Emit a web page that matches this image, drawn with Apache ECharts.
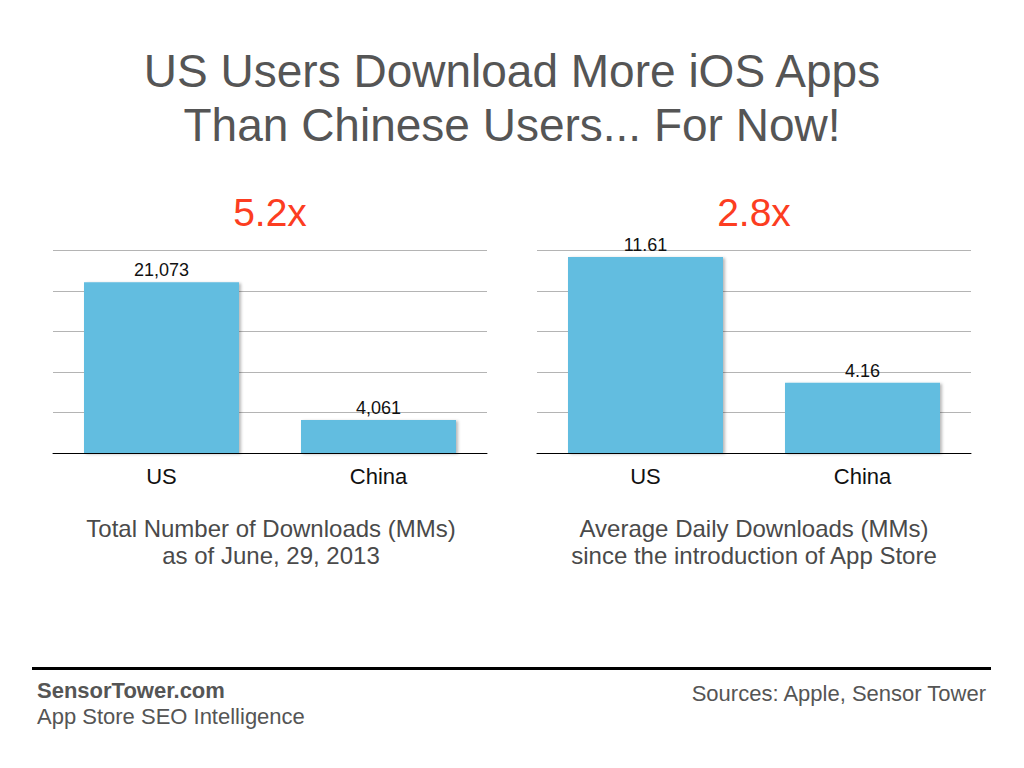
<!DOCTYPE html>
<html>
<head>
<meta charset="utf-8">
<script src="https://cdn.jsdelivr.net/npm/echarts@6/dist/echarts.min.js"></script>
<style>
html,body{margin:0;padding:0;background:#fff;}
#main{width:1024px;height:768px;}
</style>
</head>
<body>
<div id="main"></div>
<script>
var categories = ['US', 'China'];
var totalDownloads = [21073, 4061];
var dailyDownloads = [11.61, 4.16];
var titleLines = ['US Users Download More iOS Apps', 'Than Chinese Users... For Now!'];
var ratioLabels = ['5.2x', '2.8x'];
var leftCaption = ['Total Number of Downloads (MMs)', 'as of June, 29, 2013'];
var rightCaption = ['Average Daily Downloads (MMs)', 'since the introduction of App Store'];
var footerLeft = ['SensorTower.com', 'App Store SEO Intelligence'];
var footerRight = 'Sources: Apple, Sensor Tower';

var FONT = '"Liberation Sans", Arial, Helvetica, sans-serif';
var GRAY = '#555555';
var BAR = '#62bde0';

function txt(x, y, s, size, color, align, weight) {
  return {
    type: 'text', x: x, y: y, silent: true,
    style: {
      text: s, fill: color, font: (weight || 'normal') + ' ' + size + 'px ' + FONT,
      textAlign: align || 'center', textVerticalAlign: 'middle'
    }
  };
}

function xAxisCfg(gi) {
  return {
    type: 'category', gridIndex: gi, data: categories,
    axisLine: { show: true, lineStyle: { color: '#000', width: 1 } },
    axisTick: { show: false },
    axisLabel: { color: '#111', fontSize: 22, fontFamily: FONT, margin: 12 }
  };
}
function yAxisCfg(gi, max, interval) {
  return {
    type: 'value', gridIndex: gi, min: 0, max: max, interval: interval,
    axisLine: { show: false }, axisTick: { show: false }, axisLabel: { show: false },
    splitLine: { show: true, lineStyle: { color: '#b4b4b4', width: 1 } }
  };
}
function barSeries(gi, data, fmt) {
  return {
    type: 'bar', xAxisIndex: gi, yAxisIndex: gi, data: data, barWidth: 155,
    itemStyle: { color: BAR, shadowColor: 'rgba(0,0,0,0.28)', shadowBlur: 3, shadowOffsetX: 2, shadowOffsetY: 1 },
    label: { show: true, position: 'top', distance: 3, color: '#111', fontSize: 18, fontFamily: FONT, formatter: fmt },
    animation: false
  };
}

var chart = echarts.init(document.getElementById('main'), null, { renderer: 'svg' });
chart.setOption({
  backgroundColor: '#fff',
  animation: false,
  grid: [
    { left: 53, top: 250.5, width: 434, height: 202.5 },
    { left: 537, top: 250.5, width: 434, height: 202.5 }
  ],
  xAxis: [xAxisCfg(0), xAxisCfg(1)],
  yAxis: [yAxisCfg(0, 25000, 5000), yAxisCfg(1, 12, 2.4)],
  series: [
    barSeries(0, totalDownloads, function (p) { return Number(p.value).toLocaleString('en-US'); }),
    barSeries(1, dailyDownloads, function (p) { return String(p.value); })
  ],
  graphic: [
    txt(512, 71, titleLines[0], 46, GRAY),
    txt(512, 125, titleLines[1], 46, GRAY),
    txt(270, 212, ratioLabels[0], 39, '#fc3d21'),
    txt(754, 212, ratioLabels[1], 39, '#fc3d21'),
    txt(271, 528, leftCaption[0], 24, '#4a4a4a'),
    txt(271, 555, leftCaption[1], 24, '#4a4a4a'),
    txt(754, 528, rightCaption[0], 24, '#4a4a4a'),
    txt(754, 555, rightCaption[1], 24, '#4a4a4a'),
    { type: 'rect', silent: true, shape: { x: 32, y: 667, width: 959, height: 3 }, style: { fill: '#000' } },
    txt(37, 690, footerLeft[0], 22, GRAY, 'left', 'bold'),
    txt(37, 716, footerLeft[1], 22, GRAY, 'left'),
    txt(986, 693, footerRight, 22, GRAY, 'right')
  ]
});
</script>
</body>
</html>
